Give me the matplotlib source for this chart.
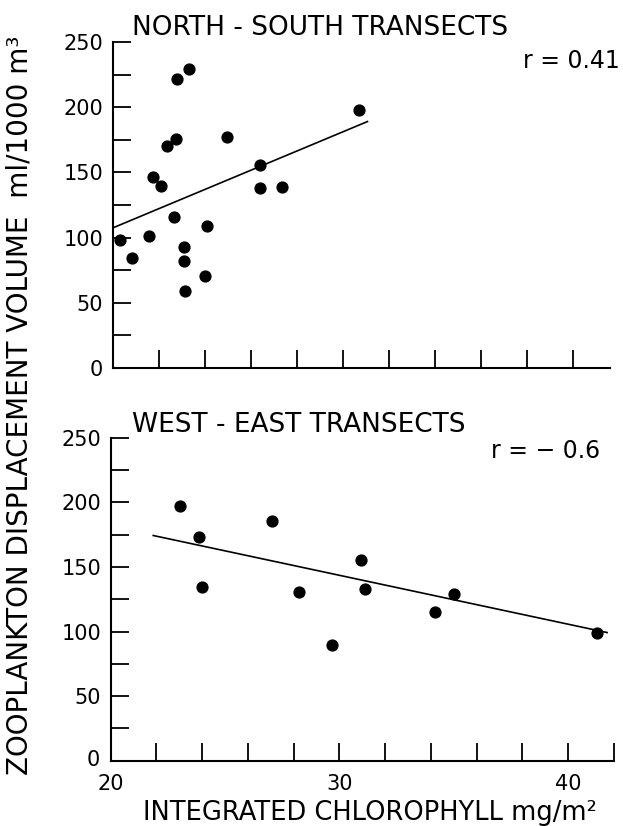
import matplotlib
matplotlib.use("Agg")
import matplotlib.pyplot as plt

# ---- data ----
ns_chl = [20.3, 20.84, 21.55, 21.74, 22.07, 22.36, 22.74, 22.80, 23.32, 22.64,
          23.09, 23.09, 23.12, 24.01, 24.09, 24.97, 26.41, 26.38, 27.35, 30.70]
ns_zoo = [98.1, 84.7, 101.4, 146.2, 139.9, 170.3, 175.3, 221.9, 229.2, 115.8,
          92.8, 81.9, 58.9, 70.8, 109.2, 177.3, 155.6, 138.1, 139.1, 197.8]
ns_fit_x = [20.0, 31.06]
ns_fit_y = [107.5, 189.0]

we_chl = [23.02, 23.86, 23.99, 27.07, 28.21, 29.69, 30.96, 31.12, 34.16, 35.02, 41.26]
we_zoo = [196.9, 173.5, 134.7, 185.3, 130.3, 89.5, 155.3, 133.2, 115.2, 128.8, 99.2]
we_fit_x = [21.86, 41.70]
we_fit_y = [174.3, 99.2]

y_major = [0, 50, 100, 150, 200, 250]
y_minor = [25, 75, 125, 175, 225]
x_ticks = [22, 24, 26, 28, 30, 32, 34, 36, 38, 40, 42]
x_labels = ["20", "30", "40"]

ns_title = "NORTH - SOUTH TRANSECTS"
we_title = "WEST - EAST TRANSECTS"
ns_r = "r = 0.41"
we_r = "r = \u2212 0.6"
ylabel = "ZOOPLANKTON DISPLACEMENT VOLUME  ml/1000 m\u00b3"
xlabel = "INTEGRATED CHLOROPHYLL mg/m\u00b2"

W, H = 623, 826
plt.rcParams['font.family'] = ['DejaVu Sans']
fig = plt.figure(figsize=(W / 100, H / 100), dpi=100)

def px_axes(l, r, t, b):
    return fig.add_axes([l / W, 1 - b / H, (r - l) / W, (b - t) / H])

ax1 = px_axes(113, 610, 42, 368)
ax2 = px_axes(110.7, 614, 437.7, 760.7)

def style(ax, xmax, xticks):
    ax.set_xlim(20, xmax)
    ax.set_ylim(0, 250)
    for s in ("top", "right"):
        ax.spines[s].set_visible(False)
    for s in ("left", "bottom"):
        ax.spines[s].set_linewidth(1.5)
    ax.set_yticks(y_major + y_minor)
    ax.set_yticklabels([str(v) for v in y_major] + [""] * len(y_minor))
    ax.tick_params(axis='y', direction='in', length=13, width=1.3, labelsize=15, pad=7)
    ax.set_xticks(xticks)
    ax.set_xticklabels([""] * len(xticks))
    ax.tick_params(axis='x', direction='in', length=13, width=1.3, labelsize=15)

style(ax1, 41.6, x_ticks[:-1])
style(ax2, 42.0, x_ticks)
ax1.tick_params(axis='x', labelbottom=False)

ax2.set_yticklabels([""] + [str(v) for v in y_major[1:]] + [""] * len(y_minor))
# bottom-panel corner labels
fig.text(93 / W, 1 - 760 / H, "0", fontsize=15, ha='center', va='center')
for lab, xv in zip(x_labels, [20, 30, 40]):
    ax2.text(xv, -10, lab, fontsize=15, ha='center', va='top',
             transform=ax2.transData, clip_on=False)

ax1.plot(ns_fit_x, ns_fit_y, color='black', lw=1.2, zorder=2)
ax1.plot(ns_chl, ns_zoo, 'o', color='black', ms=7.8, zorder=3, clip_on=False)
ax2.plot(we_fit_x, we_fit_y, color='black', lw=1.2, zorder=2)
ax2.plot(we_chl, we_zoo, 'o', color='black', ms=7.8, zorder=3, clip_on=False)

fig.text(132 / W, 1 - 35 / H, ns_title, fontsize=19, ha='left', va='baseline')
fig.text(132 / W, 1 - 432 / H, we_title, fontsize=19, ha='left', va='baseline')
fig.text(620 / W, 1 - 68 / H, ns_r, fontsize=17, ha='right', va='baseline')
fig.text(600 / W, 1 - 458 / H, we_r, fontsize=17, ha='right', va='baseline')

fig.text(20 / W, 1 - 405 / H, ylabel, fontsize=20, rotation=90, ha='center', va='center')
fig.text(370 / W, 1 - 820 / H, xlabel, fontsize=18.5, ha='center', va='baseline')

fig.savefig("out.png", dpi=100)
